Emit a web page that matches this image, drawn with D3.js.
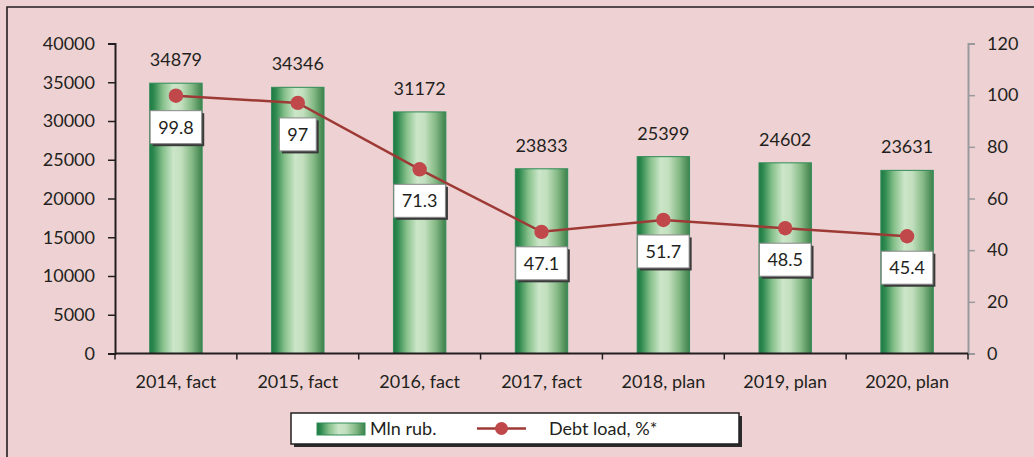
<!DOCTYPE html>
<html>
<head>
<meta charset="utf-8">
<script src="https://cdn.jsdelivr.net/npm/d3@7"></script>
<style>
  html, body { margin: 0; padding: 0; background: #EED2D3; }
  svg { display: block; }
  text { font-family: Lato, "Open Sans", sans-serif; fill: #231F20; }
</style>
</head>
<body>
<svg id="chart" width="1034" height="457"></svg>
<script>
const categories = ["2014, fact", "2015, fact", "2016, fact", "2017, fact", "2018, plan", "2019, plan", "2020, plan"];
const mlnRub = [34879, 34346, 31172, 23833, 25399, 24602, 23631];
const debtLoad = [99.8, 97, 71.3, 47.1, 51.7, 48.5, 45.4];
const leftTicks = [0, 5000, 10000, 15000, 20000, 25000, 30000, 35000, 40000];
const rightTicks = [0, 20, 40, 60, 80, 100, 120];
const seriesNames = ["Mln rub.", "Debt load, %*"];

const svg = d3.select("#chart");
const W = 1034, H = 457;
const plot = { left: 115, right: 968, top: 43.5, bottom: 353.5 };

// frame
svg.append("rect").attr("width", W).attr("height", H).attr("fill", "#EED2D3");
svg.append("path").attr("d", `M7,${H} L7,7 L${W},7`).attr("fill", "none")
  .attr("stroke", "#231F20").attr("stroke-width", 1.6);

// gradient
const defs = svg.append("defs");
const g = defs.append("linearGradient").attr("id", "barGrad").attr("x1", "0").attr("x2", "1").attr("y1", "0").attr("y2", "0");
[[0, "#1C7A43"], [0.08, "#2F8A50"], [0.25, "#86C08A"], [0.45, "#CBE6C8"], [0.6, "#C2DFBE"], [0.8, "#86BA86"], [0.95, "#4E8E58"], [1, "#3F8550"]]
  .forEach(([o, c]) => g.append("stop").attr("offset", o).attr("stop-color", c));

const x = d3.scaleBand().domain(categories).range([plot.left, plot.right]).paddingInner(0.57).paddingOuter(0.285);
const xOuter = d3.scaleBand().domain(categories).range([plot.left, plot.right]);
const yL = d3.scaleLinear().domain([0, 40000]).range([plot.bottom, plot.top]);
const yR = d3.scaleLinear().domain([0, 120]).range([plot.bottom, plot.top]);

// bars
svg.append("g").selectAll("rect").data(mlnRub).join("rect")
  .attr("x", (d, i) => x(categories[i]))
  .attr("y", d => yL(d))
  .attr("width", x.bandwidth())
  .attr("height", d => yL(0) - yL(d))
  .attr("fill", "url(#barGrad)")
  .attr("stroke", "#2E8B57").attr("stroke-width", 1);

// bar value labels
svg.append("g").selectAll("text").data(mlnRub).join("text")
  .attr("x", (d, i) => x(categories[i]) + x.bandwidth() / 2)
  .attr("y", d => yL(d) - 17)
  .attr("text-anchor", "middle").attr("font-size", 18)
  .text(d => d);

// left axis
const axL = svg.append("g").attr("transform", `translate(${plot.left},0)`)
  .call(d3.axisLeft(yL).tickValues(leftTicks).tickSize(7).tickPadding(13).tickFormat(d3.format("d")));
axL.select(".domain").attr("stroke", "#231F20").attr("stroke-width", 2);
axL.selectAll(".tick line").attr("stroke", "#231F20").attr("stroke-width", 1.5);
axL.selectAll("text").attr("font-size", 18).attr("font-family", "Lato, sans-serif").attr("fill", "#231F20");

// right axis
const axR = svg.append("g").attr("transform", `translate(${plot.right},0)`)
  .call(d3.axisRight(yR).tickValues(rightTicks).tickSize(7).tickPadding(12));
axR.select(".domain").attr("stroke", "#9A9A9E").attr("stroke-width", 2);
axR.selectAll(".tick line").attr("stroke", "#9A9A9E").attr("stroke-width", 1.5);
axR.selectAll("text").attr("font-size", 18).attr("font-family", "Lato, sans-serif").attr("fill", "#231F20");

// bottom axis
const axB = svg.append("g").attr("transform", `translate(0,${plot.bottom})`)
  .call(d3.axisBottom(xOuter).tickSize(0).tickPadding(22));
axB.select(".domain").remove();
axB.selectAll("text").attr("font-size", 18).attr("font-family", "Lato, sans-serif").attr("fill", "#231F20");
svg.append("line").attr("x1", plot.left).attr("x2", plot.right).attr("y1", plot.bottom).attr("y2", plot.bottom)
  .attr("stroke", "#231F20").attr("stroke-width", 2.2);
const dividers = categories.map(c => xOuter(c)).concat([plot.right]);
svg.append("g").selectAll("line").data(dividers).join("line")
  .attr("x1", d => d).attr("x2", d => d).attr("y1", plot.bottom).attr("y2", plot.bottom + 6)
  .attr("stroke", "#231F20").attr("stroke-width", 1.5);

// line series
const cx = (i) => x(categories[i]) + x.bandwidth() / 2;
const line = d3.line().x((d, i) => cx(i)).y(d => yR(d));
svg.append("path").datum(debtLoad).attr("d", line).attr("fill", "none")
  .attr("stroke", "#9E3A36").attr("stroke-width", 2.5);
svg.append("g").selectAll("circle").data(debtLoad).join("circle")
  .attr("cx", (d, i) => cx(i)).attr("cy", d => yR(d)).attr("r", 7.2).attr("fill", "#C0474A");

// point labels
const lab = svg.append("g").selectAll("g").data(debtLoad).join("g")
  .attr("transform", (d, i) => `translate(${cx(i)},${yR(d) + 15})`);
lab.each(function(d) {
  const grp = d3.select(this);
  const t = grp.append("text").attr("x", 0).attr("y", 23).attr("text-anchor", "middle").attr("font-size", 18).text(d);
  const w = t.node().getComputedTextLength() + 16;
  grp.insert("rect", "text").attr("x", -w / 2 + 2.5).attr("y", 2.5).attr("width", w).attr("height", 33).attr("fill", "#3a3a3a");
  grp.insert("rect", "text").attr("x", -w / 2).attr("y", 0).attr("width", w).attr("height", 33)
    .attr("fill", "#fff").attr("stroke", "#888").attr("stroke-width", 1);
});

// legend
const lg = svg.append("g");
lg.append("rect").attr("x", 294).attr("y", 416).attr("width", 448).attr("height", 31).attr("fill", "#2b2b2b");
lg.append("rect").attr("x", 291).attr("y", 413).attr("width", 448).attr("height", 31).attr("fill", "#fff")
  .attr("stroke", "#231F20").attr("stroke-width", 1.5);
lg.append("rect").attr("x", 317).attr("y", 423).attr("width", 48).attr("height", 12).attr("fill", "url(#barGrad)")
  .attr("stroke", "#2E8B57").attr("stroke-width", 1);
lg.append("text").attr("x", 370).attr("y", 435).attr("font-size", 18).text(seriesNames[0]);
lg.append("line").attr("x1", 477).attr("x2", 526).attr("y1", 428.5).attr("y2", 428.5).attr("stroke", "#9E3A36").attr("stroke-width", 2.5);
lg.append("circle").attr("cx", 501.5).attr("cy", 428.5).attr("r", 6.5).attr("fill", "#C0474A");
lg.append("text").attr("x", 549).attr("y", 435).attr("font-size", 18).text(seriesNames[1]);
</script>
</body>
</html>
